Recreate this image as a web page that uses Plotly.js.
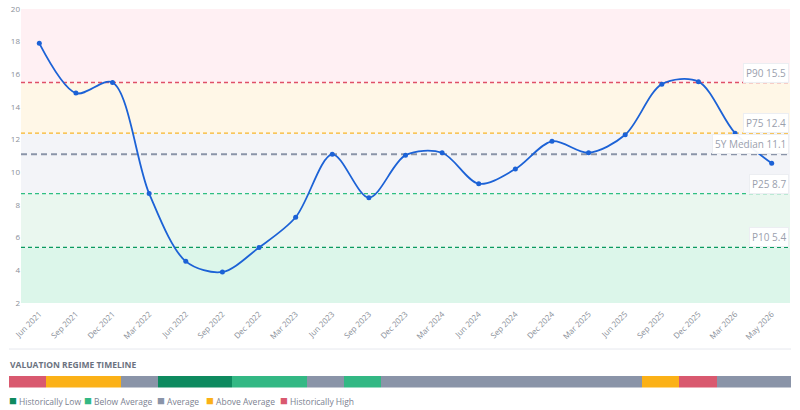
<!DOCTYPE html>
<html>
<head>
<meta charset="utf-8">
<script src="https://cdn.plot.ly/plotly-3.0.1.min.js"></script>
<style>
  body { margin: 0; background: #fff; }
  #chart { width: 800px; height: 410px; }
</style>
</head>
<body>
<div id="chart"></div>
<script>
// quarterly valuation readings
const periods = ["Jun 2021", "Sep 2021", "Dec 2021", "Mar 2022", "Jun 2022", "Sep 2022", "Dec 2022",
                 "Mar 2023", "Jun 2023", "Sep 2023", "Dec 2023", "Mar 2024", "Jun 2024", "Sep 2024",
                 "Dec 2024", "Mar 2025", "Jun 2025", "Sep 2025", "Dec 2025", "Mar 2026", "May 2026"];
const values = [17.9, 14.85, 15.5, 8.7, 4.55, 3.9, 5.4,
                7.25, 11.1, 8.45, 11.05, 11.2, 9.3, 10.2,
                11.9, 11.2, 12.3, 15.4, 15.55, 12.4, 10.55];

// regime of each period (drives the timeline strip)
const regimes = ["High", "Above", "Above", "Average", "Low", "Low", "Below",
                 "Below", "Average", "Below", "Average", "Average", "Average", "Average",
                 "Average", "Average", "Average", "Above", "High", "Average", "Average"];

// percentile reference lines
const pctLabels = ["P10", "P25", "5Y Median", "P75", "P90"];
const pctValues = [5.4, 8.7, 11.1, 12.4, 15.5];

// legend
const regimeKeys = ["Low", "Below", "Average", "Above", "High"];
const regimeNames = ["Historically Low", "Below Average", "Average", "Above Average", "Historically High"];

const regimeColors = { Low: "#0e8a5f", Below: "#33b884", Average: "#8a94a8", Above: "#fbb117", High: "#d9596f" };
const lineColors = ["#0b9a5f", "#2fbf82", "#8a94a8", "#f7b52a", "#e05068"];
// one band per regime, bottom to top
const bandColors = ["#dcf6ea", "#eaf7ef", "#f3f4f8", "#fff7e7", "#fff0f3"];

const W = 800, H = 410;
const px = v => v / W;
const py = v => (H - v) / H;

function buildShapes() {
    let shapes = [];
    // colored bands between percentiles (median is not a band edge)
    let edges = [2];
    pctValues.forEach((v, i) => { if (pctLabels[i] !== "5Y Median") edges.push(v); });
    edges.push(20);
    for (let i = 0; i < edges.length - 1; i++) {
        shapes.push({
            type: "rect", xref: "x domain", yref: "y",
            x0: 0, x1: 1, y0: edges[i], y1: edges[i + 1],
            fillcolor: bandColors[i], line: { width: 0 }, layer: "below"
        });
    }
    // dashed percentile lines
    pctValues.forEach((v, i) => {
        let isMedian = pctLabels[i] === "5Y Median";
        shapes.push({
            type: "line", xref: "x domain", yref: "y",
            x0: 0, x1: 1, y0: v, y1: v,
            line: { color: lineColors[i], width: isMedian ? 2 : 1.3, dash: isMedian ? "6px,4px" : "4px,3px" },
            layer: "below"
        });
    });
    // separator above the timeline
    shapes.push({
        type: "line", xref: "paper", yref: "paper",
        x0: px(9), x1: px(791), y0: py(349), y1: py(349),
        line: { color: "#e6e8ee", width: 1 }
    });
    return shapes;
}

function buildAnnotations() {
    let anns = [];
    pctValues.forEach((v, i) => {
        anns.push({
            xref: "paper", yref: "y", x: px(789), y: v,
            xanchor: "right", yanchor: "bottom",
            text: pctLabels[i] + " " + v.toFixed(1),
            showarrow: false,
            font: { family: "Open Sans, sans-serif", size: 10, color: "#9aa0ad" },
            bgcolor: "rgba(255,255,255,0.95)", bordercolor: "#eceef2", borderwidth: 1, borderpad: 2
        });
    });
    anns.push({
        xref: "paper", yref: "paper", x: px(8), y: py(364),
        xanchor: "left", yanchor: "middle",
        text: "<b>VALUATION REGIME TIMELINE</b>", showarrow: false,
        font: { family: "Open Sans, sans-serif", size: 8.5, color: "#6b7280" }
    });
    // hand built legend, plotly's one is too wide here
    let legX = [7, 82, 155, 204, 278];
    regimeKeys.forEach((k, i) => {
        anns.push({
            xref: "paper", yref: "paper", x: px(legX[i]), y: py(400),
            xanchor: "left", yanchor: "middle", showarrow: false,
            text: '<span style="color:' + regimeColors[k] + ';font-size:13px">■</span> ' + regimeNames[i],
            font: { family: "Open Sans, sans-serif", size: 8.5, color: "#7b8190" }
        });
    });
    return anns;
}

function drawChart() {
    let line = {
        x: periods, y: values,
        type: "scatter", mode: "lines+markers",
        line: { color: "#1c62d6", width: 1.8, shape: "spline", smoothing: 0.9 },
        marker: { color: "#1c62d6", size: 5 },
        showlegend: false, hoverinfo: "x+y"
    };
    let strip = {
        x: periods, y: periods.map(() => 1),
        type: "bar", xaxis: "x2", yaxis: "y2",
        marker: { color: regimes.map(r => regimeColors[r]), line: { width: 0 } },
        showlegend: false, hoverinfo: "x"
    };
    let tickFont = { family: "Open Sans, sans-serif", size: 8, color: "#8a8f99" };
    let layout = {
        width: W, height: H,
        margin: { t: 0, b: 0, l: 0, r: 0 },
        paper_bgcolor: "#ffffff", plot_bgcolor: "#ffffff",
        bargap: 0,
        xaxis: {
            type: "category", domain: [px(21), px(790)], range: [-0.5, 20.5],
            tickangle: -45, tickfont: tickFont, showgrid: false, zeroline: false,
            showline: false, ticks: "", ticklabelstandoff: 4
        },
        yaxis: {
            domain: [py(303), py(9)], range: [2, 20], dtick: 2,
            tickfont: tickFont, showgrid: false, zeroline: false, ticks: ""
        },
        xaxis2: {
            type: "category", domain: [px(9), px(791)], range: [-0.5, 20.5],
            anchor: "y2", visible: false
        },
        yaxis2: {
            domain: [py(387.5), py(375.5)], range: [0, 1],
            anchor: "x2", visible: false
        },
        shapes: buildShapes(),
        annotations: buildAnnotations()
    };
    Plotly.newPlot("chart", [line, strip], layout, { displayModeBar: false });
}

drawChart();
</script>
</body>
</html>
